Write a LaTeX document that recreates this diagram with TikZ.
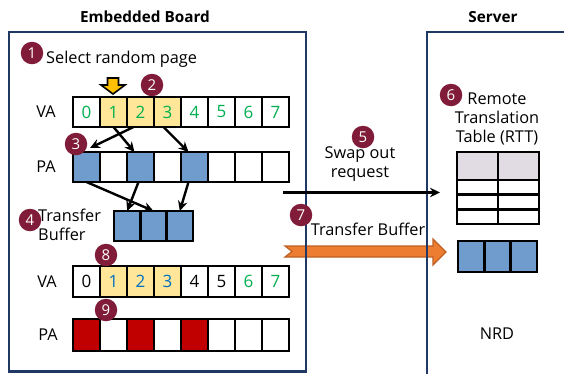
\documentclass[tikz,border=0pt]{standalone}
\usepackage{fontspec}
\setmainfont{Open Sans}
\usetikzlibrary{arrows.meta}
\definecolor{numred}{RGB}{128,28,58}
\definecolor{navy}{RGB}{31,56,100}
\definecolor{cellyellow}{RGB}{255,230,153}
\definecolor{cellblue}{RGB}{112,155,205}
\definecolor{cellred}{RGB}{192,0,0}
\definecolor{dgreen}{RGB}{0,176,80}
\definecolor{dblue}{RGB}{0,112,192}
\definecolor{hdrgrey}{RGB}{225,220,228}
\definecolor{orng}{RGB}{237,125,49}
\definecolor{orngdark}{RGB}{190,95,35}
\definecolor{gold}{RGB}{255,192,0}
\newcommand{\fsbody}{\fontsize{16.3}{19}\selectfont}
\newcommand{\fsdigit}{\fontsize{17}{19}\selectfont}
\newcommand{\fstitle}{\fontsize{15.3}{18}\selectfont}
\newcommand{\fsnum}{\fontsize{15}{15}\selectfont}
\begin{document}
\begin{tikzpicture}[x=1pt,y=-1pt,
  cell/.style={draw=black, line width=2.5pt, minimum width=27pt, minimum height=30pt, inner sep=0pt, outer sep=0pt, font=\fsdigit},
  tbcell/.style={cell, minimum width=26.3pt, fill=cellblue},
  tcell/.style={draw=black, line width=2.5pt, minimum width=41pt, inner sep=0pt, outer sep=0pt},
  num/.style={circle, fill=numred, text=white, minimum size=22.5pt, inner sep=0pt, font=\fsnum},
  lbl/.style={font=\fsbody, inner sep=0pt},
  ttl/.style={font=\fstitle\bfseries, inner sep=0pt},
  arr/.style={line width=2.4pt, -{Stealth[length=10pt,width=9.5pt]}},
  box/.style={draw=navy, line width=2.8pt}
]
\useasboundingbox (0,0) rectangle (564,373);

% titles
\node[ttl] (t1) at (145,17) {Embedded Board};
\node[ttl] (t2) at (493,17) {Server};

% orange transfer arrow (under boxes)
\coordinate (oa) at (285,246);
\filldraw[fill=orng, draw=orngdark, line width=1.2pt]
  (oa) -- (433,246) -- (433,239) -- (446,252) -- (433,265) -- (433,257) -- (285,257) -- (292,251.5) -- cycle;

% boxes
\draw[box] (9,32) rectangle (306,371.5);
\draw[box] (427,380) -- (427,32) -- (570,32);

% step 1
\node[num] (n1) at (32,53) {1};
\node[lbl, anchor=west] (sel) at (46,59) {Select random page};
\filldraw[fill=gold, draw=black, line width=1.6pt]
  (107.5,78) -- (118.5,78) -- (118.5,85) -- (125,85) -- (113,94) -- (101,85) -- (107.5,85) -- cycle;

% VA row 1
\node[lbl] (va1l) at (46,112) {VA};
\foreach \i/\f in {0/white,1/cellyellow,2/cellyellow,3/cellyellow,4/white,5/white,6/white,7/white}
  \node[cell, fill=\f, text=dgreen] (va\i) at (86.5+27*\i,112) {\i};
\node[num] (n2) at (152,85) {2};

% PA row 1
\node[lbl] (pa1l) at (46,167) {PA};
\foreach \i/\f in {0/cellblue,1/white,2/cellblue,3/white,4/cellblue,5/white,6/white,7/white}
  \node[cell, fill=\f] (pa\i) at (86.5+27*\i,167) {};

\draw[arr] ([xshift=-7pt]va2.south) -- ([xshift=-10pt,yshift=4pt]pa0.north east);
\draw[arr] (va1.south) -- ([xshift=-6pt]pa2.north);
\draw[arr] ([xshift=-4pt]va3.south) -- ([xshift=-6pt]pa4.north);
\node[num] (n3) at (76,144) {3};

% transfer buffer (board)
\foreach \i in {0,1,2}
  \node[tbcell] (tb\i) at (127.2+26.3*\i,226) {};
\draw[arr] (pa0.south) -- (tb1.north);
\draw[arr] ([xshift=-2pt]pa2.south) -- (tb0.north);
\draw[arr] ([xshift=-6pt]pa4.south) -- (tb2.north);
\node[lbl, anchor=west, align=left] (tbl) at (38,224.5) {Transfer\\Buffer};
\node[num] (n4) at (30,220) {4};

% VA row 2
\node[lbl] (va2l) at (47,281.5) {VA};
\foreach \i/\f/\c in {0/white/black,1/cellyellow/dblue,2/cellyellow/dblue,3/cellyellow/dblue,4/white/black,5/white/black,6/white/dgreen,7/white/dgreen}
  \node[cell, fill=\f, text=\c, minimum height=31pt] (vb\i) at (86.5+27*\i,281.5) {\i};
\node[num] (n8) at (106,255) {8};

% PA row 2
\node[lbl] (pa2l) at (48,335) {PA};
\foreach \i/\f in {0/cellred,1/white,2/cellred,3/white,4/cellred,5/white,6/white,7/white}
  \node[cell, fill=\f, minimum height=32pt] (pb\i) at (86.5+27*\i,335) {};
\node[num] (n9) at (106,310) {9};

% swap out request
\coordinate (sw0) at (283,192.5);
\coordinate (sw1) at (440,192.5);
\draw[arr] (sw0) -- (sw1);
\node[num] (n5) at (363,137) {5};
\node[lbl, align=center] (swl) at (360,164) {Swap out\\request};

% transfer buffer label
\node[num] (n7) at (301,215) {7};
\node[lbl] (tbl2) at (368,229) {Transfer Buffer};

% RTT
\node[num] (n6) at (451,95) {6};
\node[lbl, align=center] (rttl) at (497,119) {Remote\\Translation\\Table (RTT)};
\node[tcell, fill=hdrgrey, minimum height=28pt] (r00) at (477.5,166) {};
\node[tcell, fill=hdrgrey, minimum height=28pt] (r01) at (518.5,166) {};
\foreach \r/\y/\h in {1/187.25/14.5,2/202/15,3/216.75/14.5}{
  \node[tcell, minimum height=\h pt] (r\r0) at (477.5,\y) {};
  \node[tcell, minimum height=\h pt] (r\r1) at (518.5,\y) {};
}

% server buffer
\foreach \i in {0,1,2}
  \node[tbcell, minimum height=31pt] (sb\i) at (471.2+26.3*\i,256.5) {};

\node[lbl] (nrd) at (497,334) {NRD};
\end{tikzpicture}
\end{document}
